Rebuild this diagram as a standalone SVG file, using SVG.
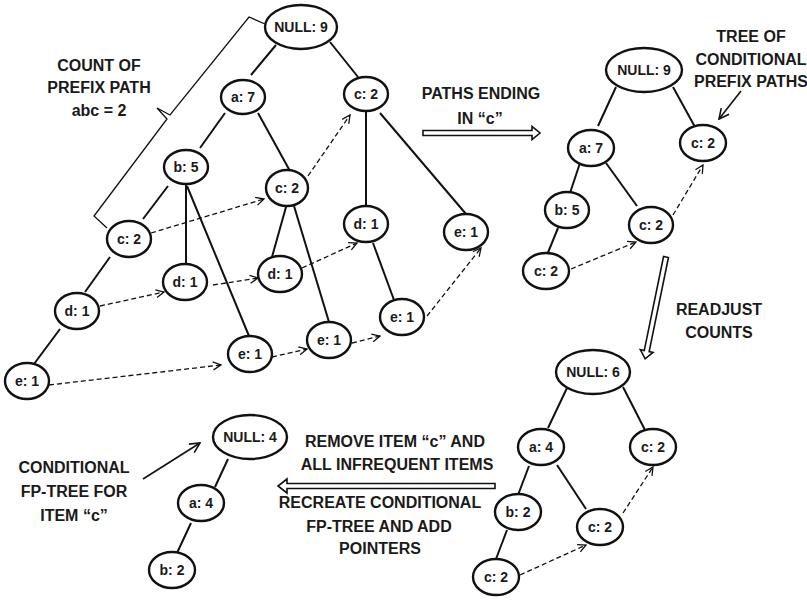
<svg xmlns="http://www.w3.org/2000/svg" width="807" height="600" viewBox="0 0 807 600">
<style>
.n ellipse{fill:#fff;stroke:#111;stroke-width:2.4}
.n text,.lbl{font-family:"Liberation Sans",Arial,sans-serif;font-weight:bold;fill:#1a1a1a;text-anchor:middle}
.n text{font-size:14px}
.lbl{font-size:16px}
.e{stroke:#111;stroke-width:2;fill:none}
.d{stroke:#111;stroke-width:1.3;fill:none;stroke-dasharray:5,3;marker-end:url(#ah)}
.p{stroke:#111;stroke-width:1.6;fill:none;marker-end:url(#ah2)}
.big{fill:#fff;stroke:#111;stroke-width:1.6}
</style>
<defs>
<marker id="ah" viewBox="0 0 10 10" refX="9" refY="5" markerUnits="userSpaceOnUse" markerWidth="10" markerHeight="10" orient="auto">
<path d="M1,1 L9,5 L1,9" fill="none" stroke="#111" stroke-width="1.3" stroke-dasharray="none"/>
</marker>
<marker id="ah2" viewBox="0 0 12 12" refX="11" refY="6" markerUnits="userSpaceOnUse" markerWidth="12" markerHeight="12" orient="auto">
<path d="M1,1 L11,6 L1,11" fill="none" stroke="#111" stroke-width="1.6"/>
</marker>
</defs>

<g id="connectors">
<!-- big tree edges -->
<line class="e" x1="276" y1="45" x2="251" y2="75"/>
<line class="e" x1="330" y1="42" x2="358" y2="77"/>
<line class="e" x1="225" y1="113" x2="200" y2="148"/>
<line class="e" x1="258" y1="113" x2="290" y2="171"/>
<line class="e" x1="168" y1="186" x2="143" y2="219"/>
<line class="e" x1="186" y1="185" x2="186" y2="264"/>
<line class="e" x1="187" y1="186" x2="249" y2="336"/>
<line class="e" x1="286" y1="207" x2="272" y2="257"/>
<line class="e" x1="294" y1="206" x2="329" y2="322"/>
<line class="e" x1="366" y1="111" x2="366" y2="206"/>
<line class="e" x1="380" y1="113" x2="466" y2="214"/>
<line class="e" x1="373" y1="243" x2="394" y2="300"/>
<line class="e" x1="110" y1="257" x2="85" y2="292"/>
<line class="e" x1="60" y1="329" x2="34" y2="364"/>
<!-- big tree pointers -->
<line class="d" x1="151" y1="233" x2="264" y2="199"/>
<line class="d" x1="308" y1="176" x2="350" y2="115"/>
<line class="d" x1="100" y1="306" x2="164" y2="292"/>
<line class="d" x1="213" y1="285" x2="258" y2="278"/>
<line class="d" x1="302" y1="268" x2="357" y2="243"/>
<line class="d" x1="49" y1="385" x2="221" y2="365"/>
<line class="d" x1="272" y1="357" x2="307" y2="349"/>
<line class="d" x1="352" y1="343" x2="380" y2="336"/>
<line class="d" x1="427" y1="316" x2="481" y2="248"/>
<!-- brace -->
<path d="M265,24 L249,17 L170,115 L157,108 L167,119 L94,216 L107,228" fill="none" stroke="#111" stroke-width="1.3"/>
<!-- top-right tree -->
<line class="e" x1="616" y1="87" x2="598" y2="126"/>
<line class="e" x1="673" y1="87" x2="695" y2="127"/>
<line class="e" x1="580" y1="163" x2="570" y2="193"/>
<line class="e" x1="606" y1="163" x2="637" y2="206"/>
<line class="e" x1="558" y1="228" x2="547" y2="255"/>
<line class="d" x1="571" y1="269" x2="636" y2="242"/>
<line class="d" x1="673" y1="215" x2="703" y2="165"/>
<line class="p" x1="741" y1="91" x2="719" y2="119"/>
<!-- bottom-right tree -->
<line class="e" x1="567" y1="388" x2="548" y2="428"/>
<line class="e" x1="623" y1="387" x2="645" y2="430"/>
<line class="e" x1="529" y1="466" x2="518" y2="495"/>
<line class="e" x1="557" y1="465" x2="586" y2="509"/>
<line class="e" x1="507" y1="530" x2="496" y2="559"/>
<line class="d" x1="520" y1="575" x2="586" y2="545"/>
<line class="d" x1="623" y1="513" x2="653" y2="467"/>
<!-- bottom-left tree -->
<line class="e" x1="228" y1="459" x2="215" y2="487"/>
<line class="e" x1="191" y1="523" x2="177" y2="553"/>
<line class="p" x1="143" y1="479" x2="200" y2="443"/>
<!-- hollow arrows -->
<polygon class="big" points="423,130.5 532,130.5 532,126.5 540,133 532,139.5 532,135.5 423,135.5"/>
<polygon class="big" transform="translate(666,257) rotate(101.6)" points="0,-2.5 96,-2.5 96,-6.5 104,0 96,6.5 96,2.5 0,2.5"/>
<polygon class="big" points="495,483.5 287,483.5 287,479 278,486 287,493 287,488.5 495,488.5"/>
</g>

<!-- labels -->
<g id="labels">
<text class="lbl" x="99" y="71">COUNT OF</text>
<text class="lbl" x="99" y="93">PREFIX PATH</text>
<text class="lbl" x="99" y="116">abc = 2</text>
<text class="lbl" x="481" y="99">PATHS ENDING</text>
<text class="lbl" x="480" y="124">IN “c”</text>
<text class="lbl" x="751" y="42">TREE OF</text>
<text class="lbl" x="751" y="65">CONDITIONAL</text>
<text class="lbl" x="751" y="87">PREFIX PATHS</text>
<text class="lbl" x="719" y="315">READJUST</text>
<text class="lbl" x="719" y="338">COUNTS</text>
<text class="lbl" x="395" y="447">REMOVE ITEM “c” AND</text>
<text class="lbl" x="397" y="470">ALL INFREQUENT ITEMS</text>
<text class="lbl" x="380" y="508">RECREATE CONDITIONAL</text>
<text class="lbl" x="379" y="532">FP-TREE AND ADD</text>
<text class="lbl" x="380" y="554">POINTERS</text>
<text class="lbl" x="74" y="473">CONDITIONAL</text>
<text class="lbl" x="74" y="497">FP-TREE FOR</text>
<text class="lbl" x="74" y="521">ITEM “c”</text>
</g>

<!-- big tree nodes -->
<g id="t1-null" class="n"><ellipse cx="301" cy="27" rx="36" ry="22"/><text x="301" y="32">NULL: 9</text></g>
<g id="t1-a7" class="n"><ellipse cx="243" cy="97" rx="22" ry="17"/><text x="243" y="102">a: 7</text></g>
<g id="t1-c2r" class="n"><ellipse cx="366" cy="94" rx="22" ry="17"/><text x="366" y="99">c: 2</text></g>
<g id="t1-b5" class="n"><ellipse cx="186" cy="167" rx="22" ry="17"/><text x="186" y="172">b: 5</text></g>
<g id="t1-c2a" class="n"><ellipse cx="287" cy="188" rx="21" ry="18"/><text x="287" y="193">c: 2</text></g>
<g id="t1-c2b" class="n"><ellipse cx="129" cy="239" rx="22" ry="18"/><text x="129" y="244">c: 2</text></g>
<g id="t1-d1b" class="n"><ellipse cx="185" cy="282" rx="22" ry="18"/><text x="185" y="287">d: 1</text></g>
<g id="t1-d1a" class="n"><ellipse cx="280" cy="274" rx="22" ry="18"/><text x="280" y="279">d: 1</text></g>
<g id="t1-d1r" class="n"><ellipse cx="366" cy="224" rx="22" ry="18"/><text x="366" y="229">d: 1</text></g>
<g id="t1-e1r" class="n"><ellipse cx="466" cy="232" rx="22" ry="18"/><text x="466" y="237">e: 1</text></g>
<g id="t1-d1l" class="n"><ellipse cx="77" cy="311" rx="22" ry="18"/><text x="77" y="316">d: 1</text></g>
<g id="t1-e1l" class="n"><ellipse cx="27" cy="381" rx="22" ry="18"/><text x="27" y="386">e: 1</text></g>
<g id="t1-e1b" class="n"><ellipse cx="250" cy="354" rx="22" ry="18"/><text x="250" y="359">e: 1</text></g>
<g id="t1-e1a" class="n"><ellipse cx="329" cy="340" rx="22" ry="18"/><text x="329" y="345">e: 1</text></g>
<g id="t1-e1d" class="n"><ellipse cx="402" cy="317" rx="22" ry="18"/><text x="402" y="322">e: 1</text></g>

<!-- top-right tree nodes -->
<g id="t2-null" class="n"><ellipse cx="644" cy="70" rx="38" ry="22"/><text x="644" y="75">NULL: 9</text></g>
<g id="t2-a7" class="n"><ellipse cx="591" cy="148" rx="23" ry="18"/><text x="591" y="153">a: 7</text></g>
<g id="t2-c2r" class="n"><ellipse cx="703" cy="143" rx="23" ry="18"/><text x="703" y="148">c: 2</text></g>
<g id="t2-b5" class="n"><ellipse cx="567" cy="210" rx="22" ry="18"/><text x="567" y="215">b: 5</text></g>
<g id="t2-c2m" class="n"><ellipse cx="651" cy="225" rx="22" ry="18"/><text x="651" y="230">c: 2</text></g>
<g id="t2-c2b" class="n"><ellipse cx="546" cy="271" rx="23" ry="18"/><text x="546" y="276">c: 2</text></g>

<!-- bottom-right tree nodes -->
<g id="t3-null" class="n"><ellipse cx="593" cy="372" rx="37" ry="22"/><text x="593" y="377">NULL: 6</text></g>
<g id="t3-a4" class="n"><ellipse cx="541" cy="447" rx="23" ry="18"/><text x="541" y="452">a: 4</text></g>
<g id="t3-c2r" class="n"><ellipse cx="653" cy="447" rx="23" ry="18"/><text x="653" y="452">c: 2</text></g>
<g id="t3-b2" class="n"><ellipse cx="518" cy="512" rx="23" ry="18"/><text x="518" y="517">b: 2</text></g>
<g id="t3-c2m" class="n"><ellipse cx="600" cy="527" rx="23" ry="18"/><text x="600" y="532">c: 2</text></g>
<g id="t3-c2b" class="n"><ellipse cx="496" cy="577" rx="23" ry="18"/><text x="496" y="582">c: 2</text></g>

<!-- bottom-left tree nodes -->
<g id="t4-null" class="n"><ellipse cx="250" cy="437" rx="37" ry="22"/><text x="250" y="442">NULL: 4</text></g>
<g id="t4-a4" class="n"><ellipse cx="201" cy="503" rx="23" ry="18"/><text x="201" y="508">a: 4</text></g>
<g id="t4-b2" class="n"><ellipse cx="172" cy="570" rx="23" ry="18"/><text x="172" y="575">b: 2</text></g>
</svg>
